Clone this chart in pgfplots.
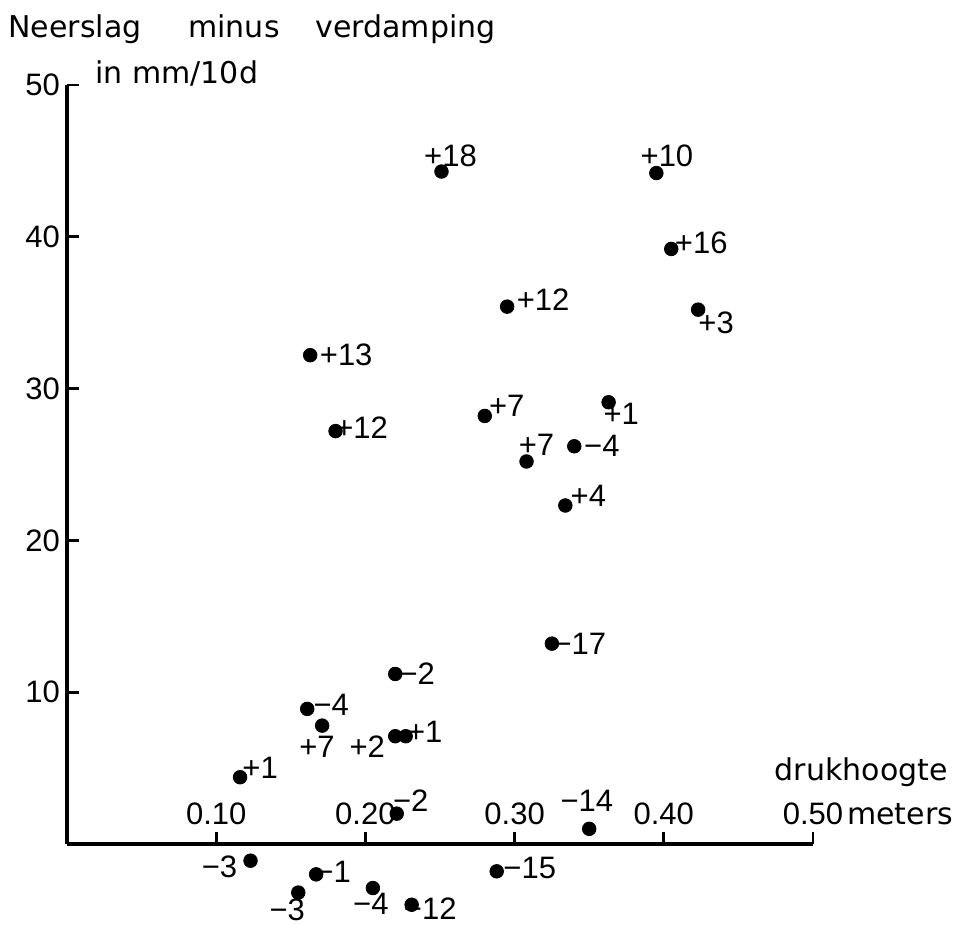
\documentclass[border=0pt]{standalone}
\usepackage{fontspec}
\setmainfont{DejaVu Sans}
\newfontfamily\numfont{Liberation Sans}
\usepackage{pgfplots}
\pgfplotsset{compat=1.18}
\usepackage{pgfplotstable}

% x = drukhoogte (m), y = neerslag minus verdamping (mm/10d),
% dx/dy = label offset (pt), label = annotated change
\pgfplotstableread{
x      y     dx     dy     label
0.251  44.3   4.5    7.8   +18
0.395  44.2   5.3    8.5   +10
0.405  39.2  15.0    3.0   +16
0.423  35.2   9.0   -6.5   +3
0.295  35.4  18.0    3.3   +12
0.163  32.2  18.0    0.0   +13
0.180  27.2  13.0    1.8   +12
0.280  28.2  11.0    5.0   +7
0.308  25.2   5.0    8.2   +7
0.340  26.2  13.8    0.0   −4
0.363  29.1   6.3   -5.6   +1
0.334  22.3  11.5    5.0   +4
0.325  13.2  14.0    0.0   −17
0.220  11.2  11.0    0.0   −2
0.161   8.9  12.0    2.0   −4
0.171   7.8  -2.6  -10.5   +7
0.220   7.1 -14.0   -5.0   +2
0.227   7.1   9.5    2.3   +1
0.116   4.4  10.0    4.5   +1
0.221   2.0   7.0    6.5   −2
0.123  -1.1 -15.5   -3.0   −3
0.167  -2.0   8.5    1.5   −1
0.155  -3.2  -5.5   -8.4   −3
0.205  -2.9  -1.0   -8.0   −4
0.231  -4.0   9.3   -2.2   −12
0.350   1.0  -1.2   13.8   −14
0.288  -1.8  16.5    1.8   −15
}\pointdata

\begin{document}
\begin{tikzpicture}
\begin{axis}[
  scale only axis,
  width=373pt, height=379.5pt,
  xmin=0, xmax=0.5, ymin=0, ymax=50,
  axis lines*=left,
  axis line style={line width=1.6pt, black},
  tick align=inside,
  major tick length=6pt,
  tick style={line width=1.4pt, black},
  xtick={0.1,0.2,0.3,0.4,0.5},
  xticklabels={0.10,0.20,0.30,0.40,{0.50\rlap{\hspace{2pt}\fontsize{15}{18}\rmfamily meters}}},
  ytick={10,20,30,40,50},
  yticklabels={10,20,30,40,50},
  ticklabel style={font=\numfont\fontsize{15.5}{18}\selectfont},
  xticklabel style={anchor=south, yshift=6pt},
  clip=false,
]
\addplot[only marks, mark=*, mark size=3.4pt, black,
  nodes near coords,
  point meta=explicit symbolic,
  visualization depends on={\thisrow{dx}\as\dx},
  visualization depends on={\thisrow{dy}\as\dy},
  every node near coord/.append style={anchor=center, inner sep=0pt,
    xshift=\dx pt, yshift=\dy pt,
    font=\numfont\fontsize{15.5}{18}\selectfont, text=black},
] table[x=x, y=y, meta=label] {\pointdata};

\coordinate (O) at (axis cs:0,0);
\coordinate (T) at (axis cs:0.5,50);

\node[anchor=base west, inner sep=0pt, font=\fontsize{15}{18}\selectfont] at (axis cs:-0.0395,53.1) {Neerslag};
\node[anchor=base west, inner sep=0pt, font=\fontsize{15}{18}\selectfont] at (axis cs:0.0811,53.1) {minus};
\node[anchor=base west, inner sep=0pt, font=\fontsize{15}{18}\selectfont] at (axis cs:0.1662,53.1) {verdamping};
\node[anchor=base west, inner sep=0pt, font=\fontsize{15}{18}\selectfont] at (axis cs:0.0188,50.13) {in mm/10d};
\node[anchor=east, inner sep=0pt, font=\fontsize{15}{18}\selectfont] at (axis cs:0.5905,4.74) {drukhoogte};
\end{axis}
\pgfresetboundingbox
\path ([xshift=-33.5pt,yshift=-40.5pt]O) rectangle ([xshift=73.5pt,yshift=42.5pt]T);
\end{tikzpicture}
\end{document}
